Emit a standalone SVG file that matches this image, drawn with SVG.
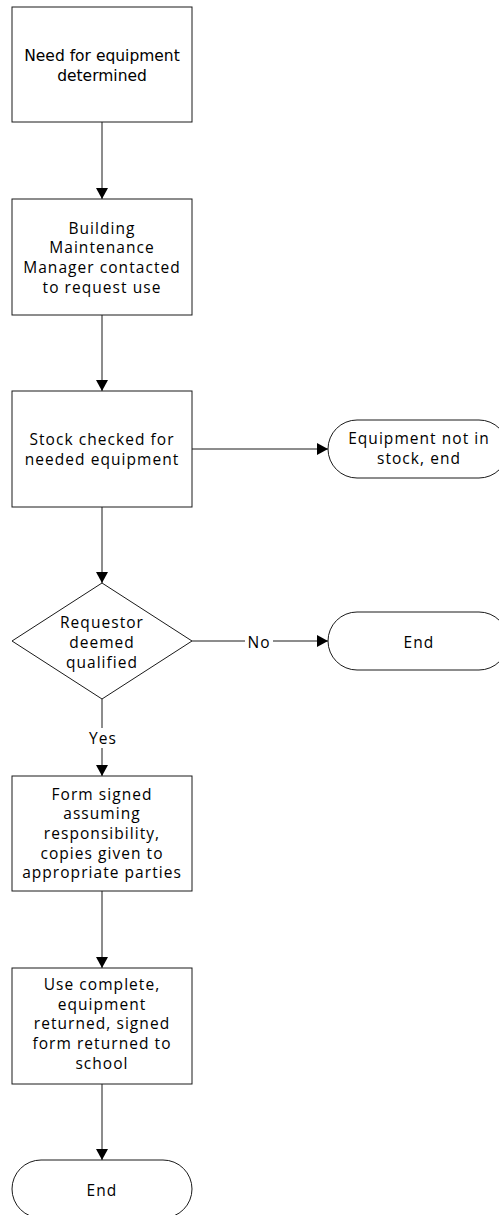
<svg xmlns="http://www.w3.org/2000/svg" width="499" height="1215" viewBox="0 0 499 1215">
<style>
.shape{fill:#fff;stroke:#1a1a1a;stroke-width:1}
.conn{fill:none;stroke:#1a1a1a;stroke-width:1}
.t{font-family:"Open Sans","Liberation Sans",sans-serif;font-size:15.5px;letter-spacing:1.05px;fill:#000;text-anchor:middle}
.t1{font-family:"DejaVu Sans","Liberation Sans",sans-serif;font-size:15.5px;fill:#000;text-anchor:middle}
</style>
<defs>
<marker id="arr" markerUnits="userSpaceOnUse" markerWidth="14" markerHeight="12" viewBox="0 0 14 12" refX="11" refY="6" orient="auto">
<path d="M0,0 L11,6 L0,12 Z" fill="#000"/>
</marker>
</defs>
<g id="connectors">
<line class="conn" x1="102" y1="122" x2="102" y2="199" marker-end="url(#arr)"/>
<line class="conn" x1="102" y1="315" x2="102" y2="391" marker-end="url(#arr)"/>
<line class="conn" x1="192" y1="449" x2="328" y2="449" marker-end="url(#arr)"/>
<line class="conn" x1="102" y1="507" x2="102" y2="583" marker-end="url(#arr)"/>
<line class="conn" x1="192" y1="641" x2="328" y2="641" marker-end="url(#arr)"/>
<line class="conn" x1="102" y1="699" x2="102" y2="776" marker-end="url(#arr)"/>
<line class="conn" x1="102" y1="891" x2="102" y2="968" marker-end="url(#arr)"/>
<line class="conn" x1="102" y1="1084" x2="102" y2="1160" marker-end="url(#arr)"/>
<rect x="245" y="633" width="28" height="18" fill="#fff"/>
<text class="t" x="259" y="648">No</text>
<rect x="87" y="728" width="31" height="20" fill="#fff"/>
<text class="t" x="103" y="744">Yes</text>
</g>
<g id="n1">
<rect class="shape" x="12" y="7" width="180" height="115"/>
<text class="t1" x="102" y="60.5">Need for equipment</text>
<text class="t1" x="102" y="80.5">determined</text>
</g>
<g id="n2">
<rect class="shape" x="12" y="199" width="180" height="116"/>
<text class="t" x="102" y="233.5">Building</text>
<text class="t" x="102" y="253.2">Maintenance</text>
<text class="t" x="102" y="273">Manager contacted</text>
<text class="t" x="102" y="292.7">to request use</text>
</g>
<g id="n3">
<rect class="shape" x="12" y="391" width="180" height="116"/>
<text class="t" x="102" y="445">Stock checked for</text>
<text class="t" x="102" y="465.2">needed equipment</text>
</g>
<g id="n4">
<rect class="shape" x="328" y="420" width="180" height="58" rx="29" ry="29"/>
<text class="t" x="419" y="443.5">Equipment not in</text>
<text class="t" x="419" y="463.5">stock, end</text>
</g>
<g id="n5">
<polygon class="shape" points="102,583 192,641 102,699 12,641"/>
<text class="t" x="102" y="627.5">Requestor</text>
<text class="t" x="102" y="648">deemed</text>
<text class="t" x="102" y="668">qualified</text>
</g>
<g id="n6">
<rect class="shape" x="328" y="612" width="180" height="58" rx="29" ry="29"/>
<text class="t" x="419" y="648">End</text>
</g>
<g id="n7">
<rect class="shape" x="12" y="776" width="180" height="115"/>
<text class="t" x="102" y="799.5">Form signed</text>
<text class="t" x="102" y="819.2">assuming</text>
<text class="t" x="102" y="839">responsibility,</text>
<text class="t" x="102" y="858.7">copies given to</text>
<text class="t" x="102" y="878.4">appropriate parties</text>
</g>
<g id="n8">
<rect class="shape" x="12" y="968" width="180" height="116"/>
<text class="t" x="102" y="990">Use complete,</text>
<text class="t" x="102" y="1009.7">equipment</text>
<text class="t" x="102" y="1029.4">returned, signed</text>
<text class="t" x="102" y="1049">form returned to</text>
<text class="t" x="102" y="1068.7">school</text>
</g>
<g id="n9">
<rect class="shape" x="12" y="1160" width="180" height="58" rx="29" ry="29"/>
<text class="t" x="102" y="1195.5">End</text>
</g>
</svg>
